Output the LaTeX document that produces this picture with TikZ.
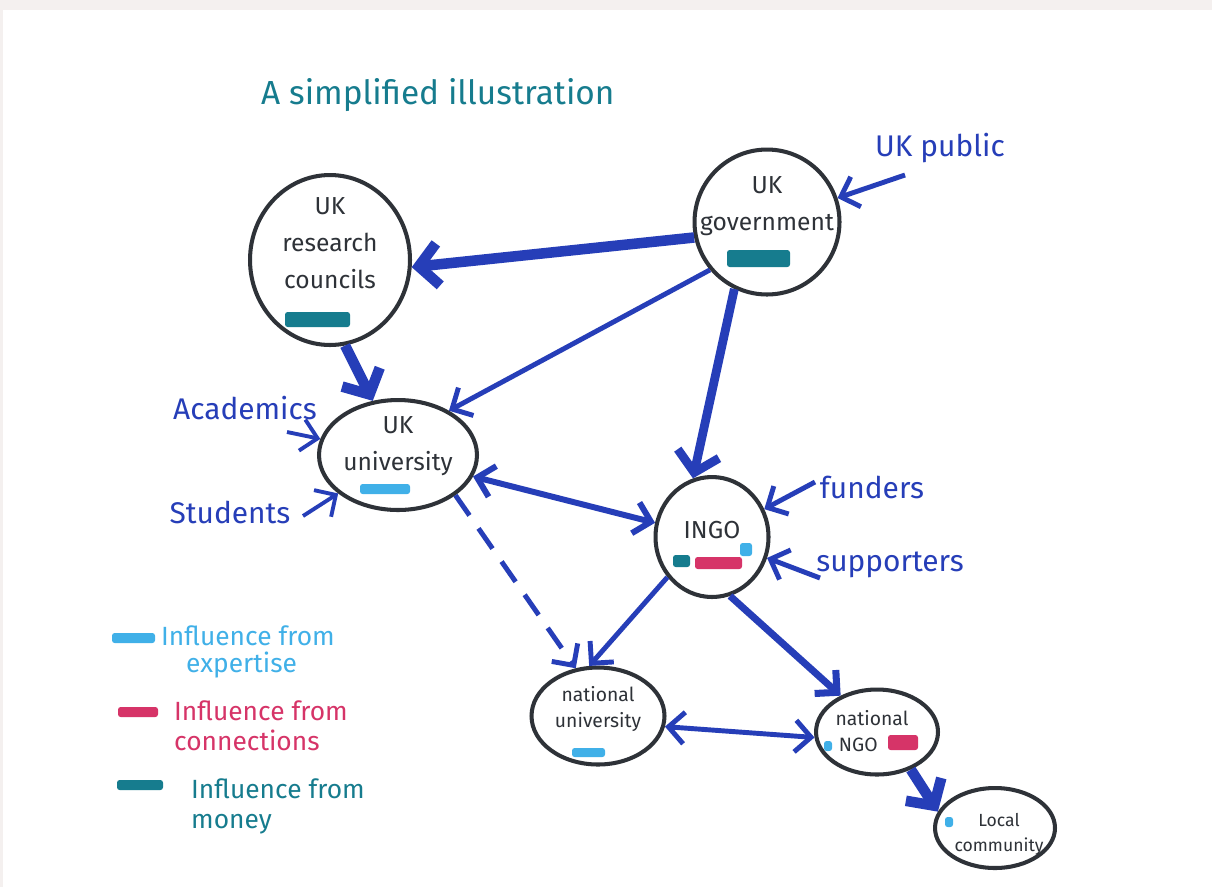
\documentclass[tikz,border=0pt]{standalone}
\usepackage{fontspec}
\setmainfont{Fira Sans}
\usetikzlibrary{shapes.geometric,arrows.meta}
\definecolor{inkblue}{RGB}{38,62,184}
\definecolor{inkteal}{RGB}{22,124,142}
\definecolor{inksky}{RGB}{64,176,232}
\definecolor{inkpink}{RGB}{214,52,104}
\definecolor{inkgrey}{RGB}{46,50,56}
\definecolor{paper}{RGB}{244,240,239}

\begin{document}
\begin{tikzpicture}[x=0.02cm,y=-0.02cm,
    place/.style={ellipse,draw=inkgrey,line width=2.3pt,inner sep=0pt},
    inside/.style={align=center,text=inkgrey,font=\fontsize{14}{21}\selectfont},
    insidesmall/.style={align=center,text=inkgrey,font=\fontsize{11}{15}\selectfont},
    actor/.style={text=inkblue,font=\fontsize{17}{20}\selectfont},
    key/.style={anchor=west,align=left,font=\fontsize{15}{17}\selectfont},
    flow/.style={draw=inkblue,line width=2.8pt,-{Straight Barb[length=9pt,width=18pt]}},
    bigflow/.style={draw=inkblue,line width=6pt,-{Straight Barb[length=11pt,width=24pt]}},
    twoway/.style={draw=inkblue,line width=3.4pt,{Straight Barb[length=9pt,width=18pt]}-{Straight Barb[length=9pt,width=18pt]}},
    swatch/.style={rounded corners=1.5pt}]

  \fill[paper] (0,0) rectangle (1212,887);
  \fill[white] (3,10) rectangle (1212,887);
  \useasboundingbox (0,0) rectangle (1212,887);

  \node[anchor=west,text=inkteal,font=\fontsize{19}{22}\selectfont] (title) at (255,95) {A simplified illustration};

  \node[place,minimum width=3.2cm,minimum height=3.4cm] (rc)   at (330,260) {};
  \node[place,minimum width=2.9cm,minimum height=2.9cm] (gov)  at (767,222) {};
  \node[place,minimum width=3.16cm,minimum height=2.2cm] (uni) at (398,455) {};
  \node[place,minimum width=2.26cm,minimum height=2.4cm] (ingo) at (712,537) {};
  \node[place,minimum width=2.66cm,minimum height=1.94cm] (nuni) at (598,716) {};
  \node[place,minimum width=2.44cm,minimum height=1.7cm] (nngo) at (877,732) {};
  \node[place,minimum width=2.4cm,minimum height=1.6cm] (loc)  at (995,828) {};

  \node[inside] (rc-t)   at (330,243) {UK\\research\\councils};
  \node[inside] (gov-t)  at (767,206) {UK\\government};
  \node[inside] (uni-t)  at (398,446) {UK\\university};
  \node[inside] (ingo-t) at (712,530) {INGO};
  \node[insidesmall] (nuni-t) at (598,709) {national\\university};
  \node[insidesmall] (nngo-t) at (872,731) {national\\NGO\hspace*{0.55cm}};
  \node[insidesmall,font=\fontsize{10}{14}\selectfont] (loc-t) at (999,834) {Local\\community};

  \fill[inkteal,swatch] (285,312) rectangle (350,327);
  \fill[inkteal,swatch] (727,250) rectangle (790,267);
  \fill[inksky,swatch]  (360,484) rectangle (410,494);
  \fill[inkteal,swatch] (673,555) rectangle (690,567);
  \fill[inkpink,swatch] (695,557) rectangle (742,569);
  \fill[inksky,swatch]  (740,543) rectangle (752,556);
  \fill[inksky,swatch]  (572,748) rectangle (605,757);
  \fill[inksky,swatch]  (824,741) rectangle (832,751);
  \fill[inkpink,swatch] (888,735) rectangle (918,750);
  \fill[inksky,swatch]  (945,817) rectangle (953,827);

  \node[actor] (pub)  at (940,148) {UK public};
  \node[actor] (aca)  at (245,408) {Academics};
  \node[actor] (stu)  at (230,512) {Students};
  \node[actor] (fund) at (872,487) {funders};
  \node[actor] (supp) at (890,565) {supporters};

  \coordinate (pub-a)  at (905,175);
  \coordinate (aca-a)  at (287,432);
  \coordinate (stu-a)  at (303,516);
  \coordinate (fund-a) at (815,482);
  \coordinate (supp-a) at (820,578);

  \draw[flow] (pub-a) -- (gov);
  \draw[flow,line width=2.2pt] (aca-a) -- (uni);
  \draw[flow,line width=2.2pt] (stu-a) -- (uni);
  \draw[flow] (fund-a) -- (ingo);
  \draw[flow] (supp-a) -- (ingo);

  \draw[bigflow] (gov.192) -- (rc.355);
  \draw[bigflow] (rc.280) -- (uni.115);
  \draw[flow] (gov.220) -- (uni.41);
  \draw[bigflow,line width=5pt] (gov.244) -- (ingo.108);
  \draw[twoway] (uni.344) -- (ingo.166);
  \draw[flow,dashed,dash pattern=on 14pt off 9pt] (uni.325) -- (nuni.115);
  \draw[flow] (ingo.222) -- (nuni.100);
  \draw[flow,line width=4pt] (ingo.287) -- (nngo.135);
  \draw[twoway,line width=2.8pt] (nuni.351) -- (nngo.185);
  \draw[bigflow] (nngo.312) -- (loc.164);

  \fill[inksky,swatch]  (112,633) rectangle (155,643);
  \node[key,text=inksky] (k-exp) at (155,652) {Influence from\\[-2pt]\hspace*{0.5cm}expertise};
  \fill[inkpink,swatch] (118,707) rectangle (158,717);
  \node[key,text=inkpink] (k-con) at (168,726) {Influence from\\connections};
  \fill[inkteal,swatch] (117,780) rectangle (163,790);
  \node[key,text=inkteal] (k-mon) at (185,806) {Influence from\\money};
\end{tikzpicture}
\end{document}
